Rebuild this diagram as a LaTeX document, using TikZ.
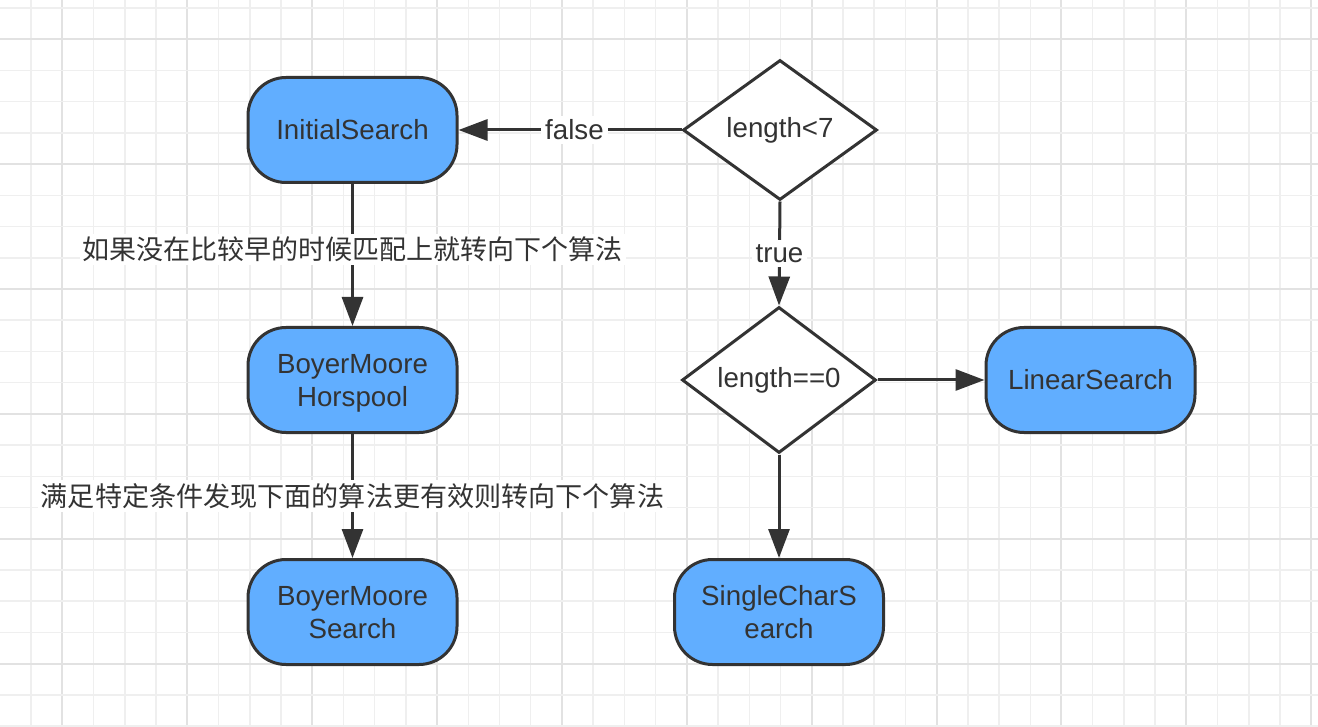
\documentclass[tikz,border=0pt]{standalone}
\usepackage{fontspec}
\setmainfont{Liberation Sans}
\newfontfamily\cjk{Noto Sans CJK SC}
\usetikzlibrary{shapes.geometric,arrows.meta}
\definecolor{ink}{HTML}{333333}
\definecolor{nodeblue}{HTML}{61AEFF}
\definecolor{gridminor}{HTML}{EFEFEF}
\definecolor{gridmajor}{HTML}{E2E2E2}
\newcommand{\twolines}[2]{\raisebox{-3.5pt}[\height][\depth]{\begin{tabular}{@{}c@{}}#1\\#2\end{tabular}}}
\tikzset{
  termbox/.style={draw=ink, line width=3pt, fill=nodeblue, rounded corners=38pt,
    minimum width=209pt, minimum height=105pt, inner sep=0pt, align=center,
    text=ink, font=\fontsize{27.7}{33}\selectfont},
  decbox/.style={diamond, draw=ink, line width=3pt, fill=white, aspect=1.4,
    minimum width=194pt, minimum height=140pt, inner sep=0pt, text=ink,
    font=\fontsize{27.7}{33}\selectfont},
  conn/.style={draw=ink, line width=3pt, -{Triangle[length=29pt,width=21pt]}},
  lbl/.style={fill=white, text=ink, inner sep=4pt, font=\fontsize{27.7}{33}\selectfont},
  cjklbl/.style={fill=white, text=ink, inner sep=3pt, font=\cjk\fontsize{27}{32}\selectfont},
}
\begin{document}
\begin{tikzpicture}[x=1pt,y=-1pt]
\useasboundingbox (0,0) rectangle (1318,727);
\fill[white] (0,0) rectangle (1318,727);
% grid
\foreach \k in {1,...,42}{
  \pgfmathsetmacro\xx{31.22*\k}
  \pgfmathtruncatemacro\m{mod(\k,4)}
  \ifnum\m=2
    \draw[gridmajor, line width=2pt] (\xx,0) -- (\xx,727);
  \else
    \draw[gridminor, line width=1.5pt] (\xx,0) -- (\xx,727);
  \fi
}
\foreach \k in {0,...,23}{
  \pgfmathsetmacro\yy{8+31.22*\k}
  \pgfmathtruncatemacro\m{mod(\k,4)}
  \ifnum\m=1
    \draw[gridmajor, line width=2pt] (0,\yy) -- (1318,\yy);
  \else
    \draw[gridminor, line width=1.5pt] (0,\yy) -- (1318,\yy);
  \fi
}
% nodes
\node[termbox] (init) at (352.5,130) {InitialSearch};
\node[termbox] (bmh) at (352.5,380) {\twolines{BoyerMoore}{Horspool}};
\node[termbox] (bms) at (352.5,612) {\twolines{BoyerMoore}{Search}};
\node[decbox] (d1) at (780,130) {length<7};
\node[decbox, minimum height=146pt] (d2) at (779,380) {length==0};
\node[termbox] (lin) at (1090.5,380) {LinearSearch};
\node[termbox] (single) at (779,612) {\twolines{SingleCharS}{earch}};
% connectors
\draw[conn] (d1.west) -- node[lbl, pos=0.48] {false} (init.east);
\draw[conn] (d1.south) -- node[lbl] {true} (d2.north);
\draw[conn] (d2.east) -- (lin.west);
\draw[conn] (d2.south) -- (single.north);
\draw[conn] (init.south) -- node[cjklbl, pos=0.46] {如果没在比较早的时候匹配上就转向下个算法} (bmh.north);
\draw[conn] (bmh.south) -- node[cjklbl, font=\cjk\fontsize{27.1}{32}\selectfont] {满足特定条件发现下面的算法更有效则转向下个算法} (bms.north);
\end{tikzpicture}
\end{document}
